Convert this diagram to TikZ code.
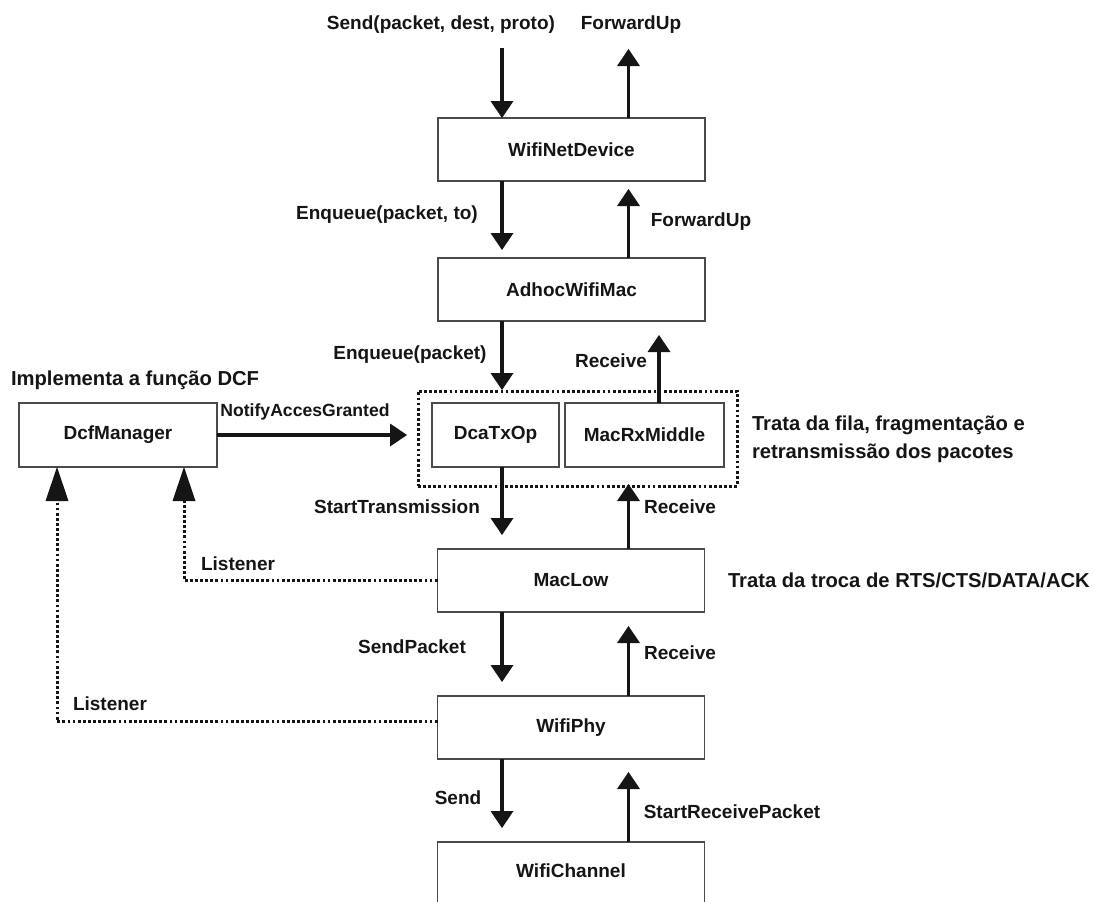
\documentclass[tikz,border=0pt]{standalone}
\usepackage{fontspec}
\setmainfont{Liberation Sans}
\usetikzlibrary{arrows.meta,calc}
\definecolor{boxgray}{HTML}{4A4A4A}
\definecolor{ink}{HTML}{151515}
\begin{document}
\begin{tikzpicture}[x=1pt,y=-1pt,
  every node/.style={font=\fontsize{19}{28}\selectfont\bfseries, text=ink, inner sep=0pt, outer sep=0pt},
  blk/.style={draw=boxgray, line width=1.2pt, minimum width=267pt, minimum height=63pt},
  arr/.style={draw=ink, line width=3.1pt, -{Triangle[width=23pt,length=17pt,line width=0pt]}},
  dotln/.style={draw=ink, line width=3pt, dash pattern=on 2.8pt off 2.3pt},
  lis/.style={dotln, -{Triangle[width=23pt,length=34pt,line width=0pt]}},
  note/.style={anchor=west, font=\fontsize{20.2}{28}\selectfont\bfseries},
  lbl/.style={anchor=center}]
\useasboundingbox (0,0) rectangle (1095,902);

% columns for the vertical connectors
\coordinate (down) at (502,0);
\coordinate (up) at (628.5,0);
\coordinate (rxup) at (659,0);
\coordinate (lisA) at (184,0);
\coordinate (lisB) at (57,0);
\coordinate (sendin) at (502,48);
\coordinate (fwdout) at (628.5,49);

% stack of blocks
\node[blk] (wnd) at (571.5,149.5) {WifiNetDevice};
\node[blk] (awm) at (571.5,289.5) {AdhocWifiMac};
\node[dotln, minimum width=319pt, minimum height=95pt] (grp) at (577.5,438.5) {};
\node[blk, minimum width=127pt, minimum height=64pt] (dca) at (495.5,435) {DcaTxOp};
\node[blk, minimum width=159pt, minimum height=64pt] (mrx) at (644.5,435) {MacRxMiddle};
\node[blk] (mlow) at (571,580.5) {MacLow};
\node[blk] (wphy) at (571,727.5) {WifiPhy};
\node[blk] (wch) at (571,873.5) {\raisebox{5pt}{WifiChannel}};
\node[blk, minimum width=198pt, minimum height=64pt] (dcf) at (118,435) {DcfManager};

% notes
\node[note] (ndcf) at (11,380) {Implementa a função DCF};
\node[note, align=left] (nfila) at (752,439) {Trata da fila, fragmentação e\\retransmissão dos pacotes};
\node[note] (nrts) at (728,580) {Trata da troca de RTS/CTS/DATA/ACK};

% downward (send) path
\draw[arr] (sendin) -- (wnd.north -| sendin);
\draw[arr, shorten >=8pt] (wnd.south -| down) -- (awm.north -| down);
\draw[arr, shorten >=1pt] (awm.south -| down) -- (grp.north -| down);
\draw[arr, shorten >=14pt] (dca.south -| down) -- (mlow.north -| down);
\draw[arr, shorten >=14pt] (mlow.south -| down) -- (wphy.north -| down);
\draw[arr, shorten >=14pt] (wphy.south -| down) -- (wch.north -| down);

% upward (receive) path
\draw[arr] (wnd.north -| up) -- (fwdout);
\draw[arr, shorten >=8pt] (awm.north -| up) -- (wnd.south -| up);
\draw[arr, shorten >=14pt] (mrx.north -| rxup) -- (awm.south -| rxup);
\draw[arr, shorten >=-2pt] (mlow.north -| up) -- (grp.south -| up);
\draw[arr, shorten >=14pt] (wphy.north -| up) -- (mlow.south -| up);
\draw[arr, shorten >=13pt] (wch.north -| up) -- (wphy.south -| up);

% access notification
\draw[arr, shorten >=11pt] (dcf.east) -- (grp.west |- dcf.east);

% listeners
\draw[lis] (mlow.west) -| (dcf.south -| lisA);
\draw[lis] ([yshift=6pt]wphy.west) -| (dcf.south -| lisB);

% connector labels
\node[lbl] (l1) at (441,25) {Send(packet, dest, proto)};
\node[lbl] (l2) at (631,25) {ForwardUp};
\node[lbl] (l3) at (387,215) {Enqueue(packet, to)};
\node[lbl] (l4) at (701,222) {ForwardUp};
\node[lbl] (l5) at (410,355) {Enqueue(packet)};
\node[lbl] (l6) at (611,361) {Receive};
\node[lbl, font=\fontsize{17.6}{20}\selectfont\bfseries] (l7) at (305,412) {NotifyAccesGranted};
\node[lbl] (l8) at (397,507) {StartTransmission};
\node[lbl] (l9) at (680,507) {Receive};
\node[lbl] (l10) at (238,564) {Listener};
\node[lbl] (l11) at (412,647) {SendPacket};
\node[lbl] (l12) at (680,653) {Receive};
\node[lbl] (l13) at (110,704) {Listener};
\node[lbl] (l14) at (458,798) {Send};
\node[lbl] (l15) at (732,812) {StartReceivePacket};
\end{tikzpicture}
\end{document}
